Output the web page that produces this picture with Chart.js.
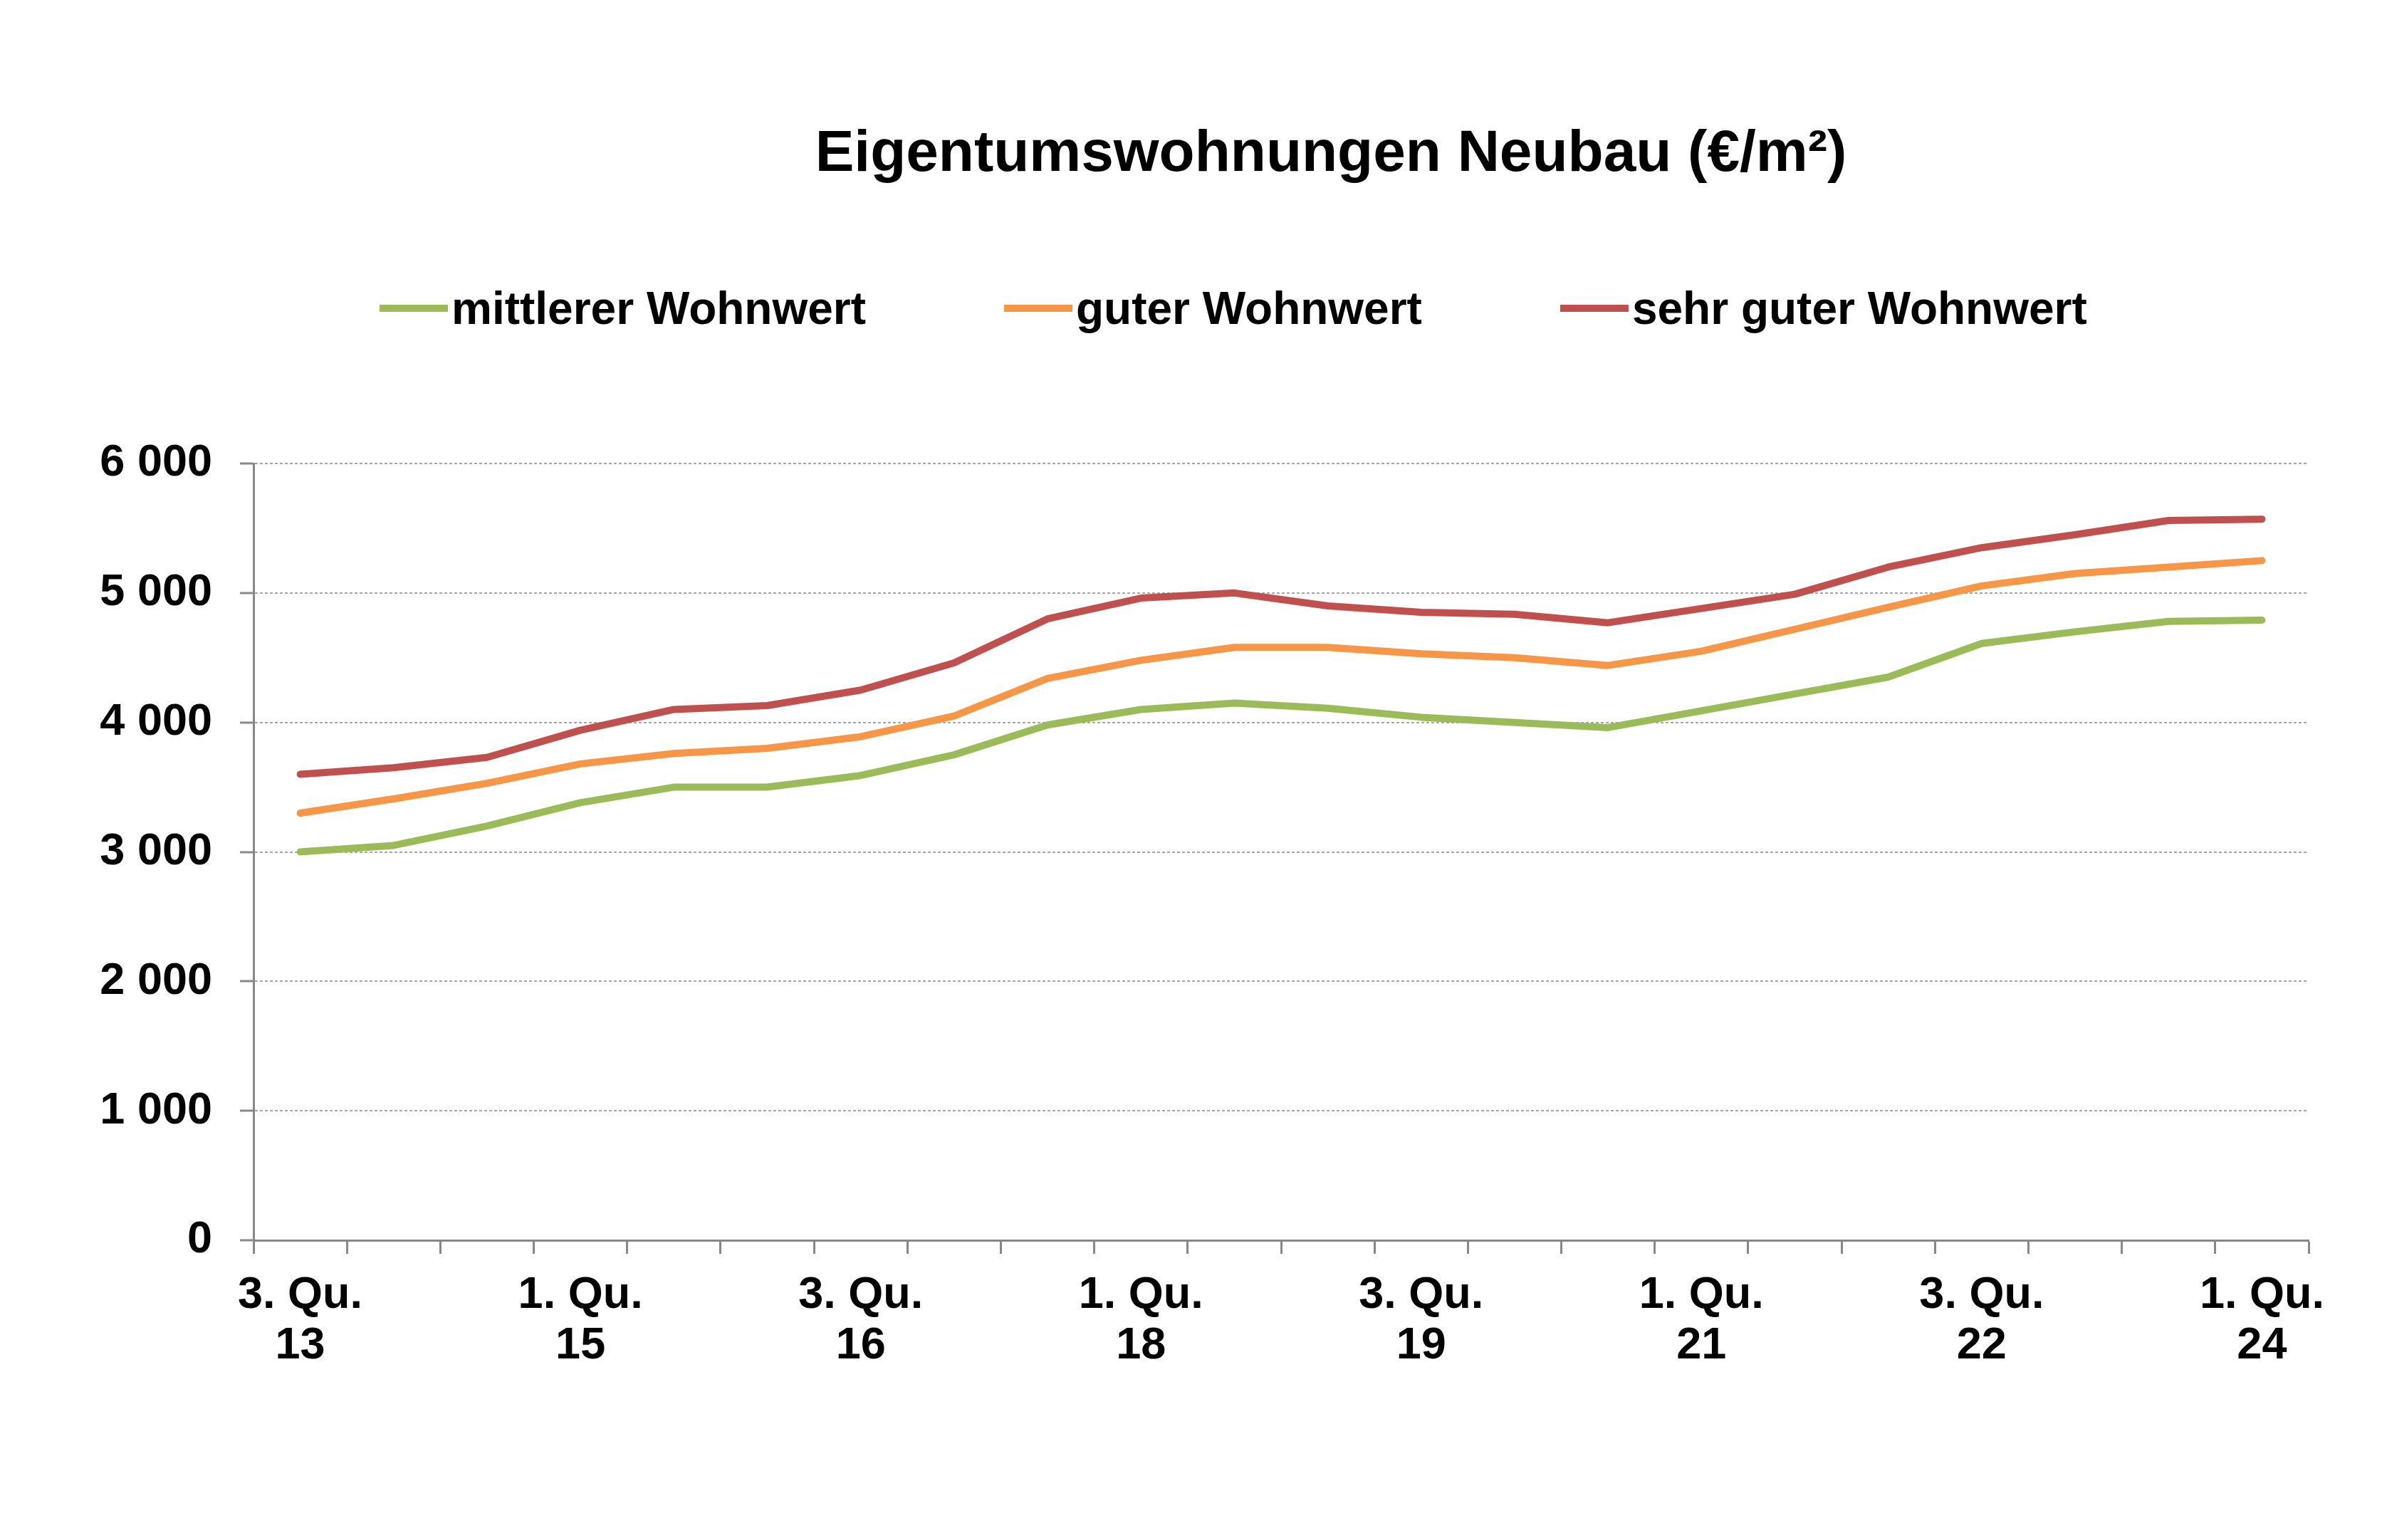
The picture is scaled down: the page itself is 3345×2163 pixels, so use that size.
<!DOCTYPE html>
<html lang="de">
<head>
<meta charset="utf-8">
<title>Eigentumswohnungen Neubau</title>
<script src="https://cdn.jsdelivr.net/npm/chart.js@4.4.1/dist/chart.umd.min.js"></script>
<style>
  html, body { margin: 0; padding: 0; background: #fff; }
  #wrap { width: 3345px; height: 2163px; position: relative; }
</style>
</head>
<body>
<div id="wrap"><canvas id="chart"></canvas></div>
<script>
const chartTitle = 'Eigentumswohnungen Neubau (€/m²)';
const categories = [
  ['3. Qu.', '13'], ['1. Qu.', '14'], ['3. Qu.', '14'], ['1. Qu.', '15'], ['3. Qu.', '15'],
  ['1. Qu.', '16'], ['3. Qu.', '16'], ['1. Qu.', '17'], ['3. Qu.', '17'], ['1. Qu.', '18'],
  ['3. Qu.', '18'], ['1. Qu.', '19'], ['3. Qu.', '19'], ['1. Qu.', '20'], ['3. Qu.', '20'],
  ['1. Qu.', '21'], ['3. Qu.', '21'], ['1. Qu.', '22'], ['3. Qu.', '22'], ['1. Qu.', '23'],
  ['3. Qu.', '23'], ['1. Qu.', '24'],
];
const seriesNames = ['mittlerer Wohnwert', 'guter Wohnwert', 'sehr guter Wohnwert'];
const mittlerer = [3000, 3050, 3200, 3380, 3500, 3500, 3590, 3750, 3980, 4100, 4150, 4110, 4040, 4000, 3960, 4090, 4220, 4350, 4610, 4700, 4780, 4790];
const guter = [3300, 3410, 3530, 3680, 3760, 3800, 3890, 4050, 4340, 4480, 4580, 4580, 4530, 4500, 4440, 4550, 4720, 4890, 5055, 5150, 5200, 5250];
const sehrGuter = [3600, 3650, 3730, 3940, 4100, 4130, 4250, 4460, 4800, 4960, 5000, 4900, 4850, 4835, 4770, 4880, 4990, 5200, 5350, 5450, 5560, 5570];
const yTickLabels = ['0', '1 000', '2 000', '3 000', '4 000', '5 000', '6 000'];

const colors = ['#9BBB59', '#F79646', '#C0504D'];
const fontFamily = '"Liberation Sans", Arial, sans-serif';

// title and legend drawn by hand so they sit where the original has them
const headerPlugin = {
  id: 'header',
  afterDraw(chart) {
    const ctx = chart.ctx;
    ctx.save();
    ctx.fillStyle = '#000';
    ctx.textBaseline = 'alphabetic';
    ctx.textAlign = 'center';
    ctx.font = `bold 82px ${fontFamily}`;
    ctx.fillText(chartTitle, 1869, 240);

    ctx.font = `bold 64px ${fontFamily}`;
    ctx.textAlign = 'left';
    let x = 533;
    chart.data.datasets.forEach((ds) => {
      ctx.strokeStyle = ds.borderColor;
      ctx.lineWidth = 10;
      ctx.lineCap = 'butt';
      ctx.beginPath();
      ctx.moveTo(x, 433);
      ctx.lineTo(x + 96, 433);
      ctx.stroke();
      ctx.fillText(ds.label, x + 101, 455);
      x += 101 + ctx.measureText(ds.label).width + 194;
    });
    ctx.restore();
  },
};

const datasets = [mittlerer, guter, sehrGuter].map((values, i) => ({
  label: seriesNames[i],
  data: values,
  borderColor: colors[i],
  backgroundColor: colors[i],
  borderWidth: 10,
  borderCapStyle: 'round',
  borderJoinStyle: 'round',
  pointRadius: 0,
  tension: 0,
}));

new Chart(document.getElementById('chart'), {
  type: 'line',
  data: { labels: categories, datasets },
  plugins: [headerPlugin],
  options: {
    responsive: true,
    maintainAspectRatio: false,
    animation: false,
    layout: { padding: { top: 651, right: 103, bottom: 0, left: 0 } },
    plugins: {
      legend: { display: false },
      title: { display: false },
      tooltip: { enabled: false },
    },
    scales: {
      x: {
        offset: true,
        afterFit: (scale) => { scale.height = 421; },
        grid: {
          offset: true,
          drawOnChartArea: false,
          drawTicks: true,
          tickLength: 19,
          tickColor: '#888888',
          tickWidth: 3,
        },
        border: { display: true, color: '#888888', width: 3 },
        ticks: {
          autoSkip: false,
          maxRotation: 0,
          padding: 23,
          color: '#000',
          font: { family: fontFamily, size: 63, weight: 'bold', lineHeight: 1.13 },
          callback: (value, index) => (index % 3 === 0 ? categories[index] : ''),
        },
      },
      y: {
        min: 0,
        max: 6000,
        afterFit: (scale) => { scale.width = 356; },
        grid: {
          color: '#a6a6a6',
          lineWidth: 2,
          drawTicks: true,
          tickLength: 19,
          tickColor: '#888888',
          tickWidth: 3,
        },
        border: { display: true, color: '#888888', width: 3, dash: [4, 3] },
        ticks: {
          stepSize: 1000,
          padding: 39,
          color: '#000',
          font: { family: fontFamily, size: 63, weight: 'bold' },
          callback: (value, index) => yTickLabels[index],
        },
      },
    },
  },
});
</script>
</body>
</html>
